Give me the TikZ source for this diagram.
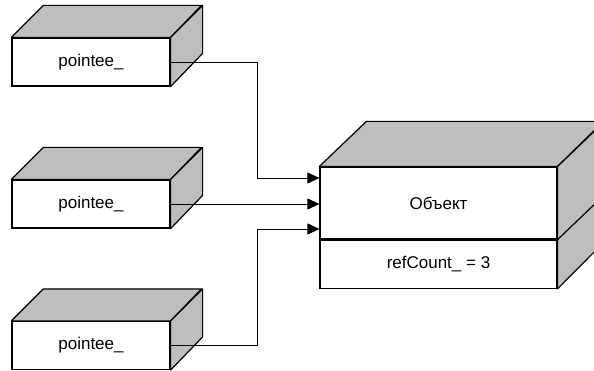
\documentclass[tikz,border=0pt]{standalone}
\usepackage{fontspec}
\setmainfont{Liberation Sans}
\usetikzlibrary{arrows.meta}
\definecolor{boxgray}{RGB}{189,190,192}
\begin{document}
\begin{tikzpicture}[x=1pt,y=1pt,
  front/.style={draw,line width=1.2pt,fill=white,minimum width=158pt,minimum height=48pt,inner sep=0pt,font=\fontsize{17}{17}\selectfont},
  bigfront/.style={draw,line width=1.2pt,fill=white,minimum width=237pt,inner sep=0pt,font=\fontsize{17}{17}\selectfont},
  face/.style={draw,line width=1.2pt,fill=boxgray,line join=round},
  conn/.style={draw,line width=0.9pt},
  arr/.style={-{Triangle[length=12pt,width=11pt]}}]
\useasboundingbox (0,0) rectangle (594,370);
\begin{scope}
\clip (0,0) rectangle (594,370);
% small boxes
\foreach \n/\y in {p1/308, p2/166, p3/24.5}{
  \node[front] (\n) at (91,\y) {pointee\_};
  \path[face] (\n.north west) -- ++(32,32) -- ++(158,0) -- (\n.north east) -- cycle;
  \path[face] (\n.north east) -- ++(32,32) -- ++(0,-48) -- (\n.south east) -- cycle;
}
% big box
\node[bigfront,minimum height=72pt] (obj) at (438.5,167) {Объект};
\node[bigfront,minimum height=48pt,anchor=north] (rc) at (obj.south) {refCount\_ = 3};
\path[face] (obj.north west) -- ++(47,45) -- ++(237,0) -- (obj.north east) -- cycle;
\path[face] (obj.north east) -- ++(47,45) -- ++(0,-120) -- (rc.south east) -- cycle;
\draw[line width=1.2pt] (rc.north east) -- ++(47,45);
\end{scope}
% connectors
\coordinate (j1) at (257,192);
\coordinate (j3) at (257,141);
\draw[conn,arr] (p1.east) -| (j1) -- (j1 -| obj.west);
\draw[conn,arr] (p2.east) -- (p2.east -| obj.west);
\draw[conn,arr] (p3.east) -| (j3) -- (j3 -| obj.west);
\end{tikzpicture}
\end{document}
